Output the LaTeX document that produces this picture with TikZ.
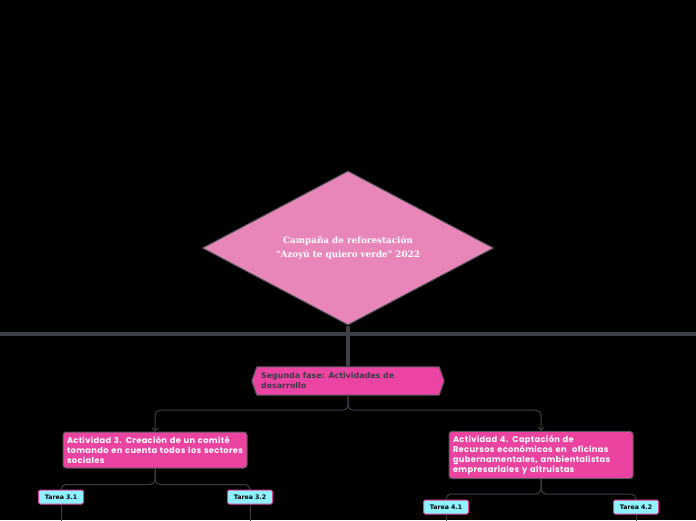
\documentclass[tikz,border=0pt]{standalone}
\usepackage{fontspec}
\usetikzlibrary{arrows.meta,shapes.geometric}
\newfontfamily\diamfont{DejaVu Serif}
\newfontfamily\actfont[LetterSpace=4]{Poppins}
\newfontfamily\hexfont{DejaVu Sans}
\definecolor{bgc}{HTML}{000000}
\definecolor{linec}{HTML}{3D4147}
\definecolor{diamc}{HTML}{E886BA}
\definecolor{hexc}{HTML}{EC44A2}
\definecolor{actc}{HTML}{EB43A0}
\definecolor{taskc}{HTML}{8FF2FF}
\definecolor{taskb}{HTML}{E0409A}
\definecolor{hextxt}{HTML}{3A3A48}
\definecolor{boxb}{HTML}{55575E}
\tikzset{
  thickline/.style={draw=linec,line width=4pt},
  conn/.style={draw=linec,line width=1pt,rounded corners=5pt},
  arr/.style={-{Straight Barb[length=3pt,width=6pt]}},
  actbox/.style={draw=boxb,line width=1pt,fill=actc,rounded corners=3pt,minimum width=184pt,
    text width=176pt,align=left,inner sep=4pt,font=\actfont\bfseries\fontsize{8.3}{10}\selectfont,text=white},
  taskbox/.style={draw=taskb,line width=1pt,fill=taskc,rounded corners=1.5pt,minimum width=45pt,minimum height=14pt,
    inner sep=1pt,font=\hexfont\bfseries\fontsize{6.2}{7}\selectfont,text=black},
}
\begin{document}
\begin{tikzpicture}[x=1pt,y=-1pt]
\fill[bgc] (0,0) rectangle (696,520);
\useasboundingbox (0,0) rectangle (696,520);
% horizontal rule
\coordinate (hl) at (0,334);
\coordinate (hr) at (696,334);
\draw[thickline] (hl) -- (hr);
% diamond
\node[diamond,draw=boxb,line width=1pt,fill=diamc,minimum width=291pt,minimum height=154pt,inner sep=0pt] (diam) at (348,248) {};
\node[align=center,text=white,inner sep=0pt,font=\diamfont\bfseries\fontsize{8.8}{14}\selectfont] (diamtext) at (diam.center)
  {Campaña de reforestación\\ "Azoyú te quiero verde" 2022};
% hexagon
\node[minimum width=192pt,minimum height=28pt,inner sep=0pt] (hex) at (348,381) {};
\fill[hexc,draw=boxb,line width=1pt] ([xshift=5pt]hex.north west) -- ([xshift=-5pt]hex.north east) -- (hex.east)
  -- ([xshift=-5pt]hex.south east) -- ([xshift=5pt]hex.south west) -- (hex.west) -- cycle;
\node[anchor=west,align=left,text=hextxt,font=\hexfont\bfseries\fontsize{7.9}{10}\selectfont,inner sep=0pt]
  (hextext) at (261,381) {Segunda fase: Actividades de\\desarrollo};
\draw[thickline] (diam.south) -- (hex.north);
% activities
\node[actbox,minimum height=36pt] (act3) at (155,450)
  {Actividad 3. Creación de un comité\\tomando en cuenta todos los sectores\\sociales};
\node[actbox,minimum height=46pt] (act4) at (541,455)
  {Actividad 4. Captación de\\Recursos económicos en \ oficinas\\gubernamentales, ambientalistas\\empresariales y altruistas};
\draw[conn,arr] (hex.south) -- ++(0,15) -| (act3.north);
\draw[conn,arr] (hex.south) -- ++(0,15) -| (act4.north);
% task lines
\coordinate (b31) at (61,525);
\coordinate (b32) at (250,525);
\coordinate (b41) at (446,525);
\coordinate (b42) at (636,525);
\draw[conn] (act3.south) -- ++(0,16) -| (61,497);
\draw[conn] (act3.south) -- ++(0,16) -| (250,497);
\draw[conn] (act4.south) -- ++(0,15) -| (446,507);
\draw[conn] (act4.south) -- ++(0,15) -| (636,507);
\node[taskbox] (t31) at (61,497) {Tarea 3.1};
\node[taskbox] (t32) at (250,497) {Tarea 3.2};
\node[taskbox] (t41) at (446,507) {Tarea 4.1};
\node[taskbox] (t42) at (636,507) {Tarea 4.2};
\draw[conn] (t31.south) -- (b31);
\draw[conn] (t32.south) -- (b32);
\draw[conn] (t41.south) -- (b41);
\draw[conn] (t42.south) -- (b42);
\end{tikzpicture}
\end{document}
